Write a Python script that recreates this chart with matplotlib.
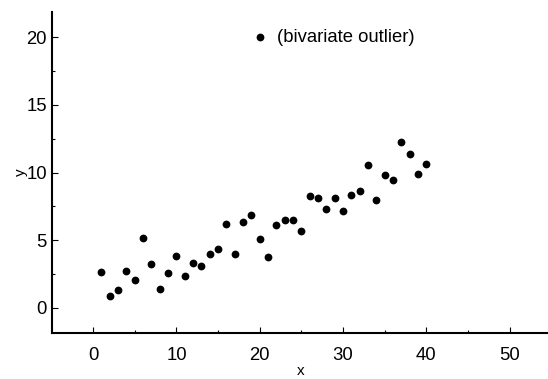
import numpy as np
import matplotlib.pyplot as plt
from matplotlib.ticker import MultipleLocator

plt.rcParams['font.family'] = ['Liberation Sans', 'DejaVu Sans']

# main cloud of points
x_vals = np.arange(1, 41)
y_vals = [2.67, 0.89, 1.31, 2.70, 2.03, 5.14, 3.24, 1.36, 2.59, 3.85,
          2.32, 3.29, 3.11, 4.00, 4.32, 6.20, 3.98, 6.35, 6.89, 5.07,
          3.76, 6.13, 6.50, 6.50, 5.70, 8.27, 8.15, 7.31, 8.15, 7.14,
          8.32, 8.64, 10.52, 7.98, 9.85, 9.41, 12.25, 11.39, 9.90, 10.64]

# the single outlying point
outlier_x = 20
outlier_y = 20
outlier_label = "(bivariate outlier)"

fig = plt.figure(figsize=(5.48, 3.79), dpi=100)
ax = fig.add_axes([0.0955, 0.1206, 0.9045, 0.8484])

ax.plot(x_vals, y_vals, 'o', color='black', markersize=5.6, markeredgewidth=0)
ax.plot(outlier_x, outlier_y, 'o', color='black', markersize=5.6, markeredgewidth=0)
ax.text(outlier_x + 2.1, outlier_y, outlier_label, fontsize=13.3, va='center', ha='left')

ax.set_xlim(-4.9, 54.6)
ax.set_ylim(-1.9, 21.9)

ax.xaxis.set_major_locator(MultipleLocator(10))
ax.xaxis.set_minor_locator(MultipleLocator(5))
ax.yaxis.set_major_locator(MultipleLocator(5))
ax.yaxis.set_minor_locator(MultipleLocator(2.5))

for side in ['top', 'right']:
    ax.spines[side].set_visible(False)
for side in ['left', 'bottom']:
    ax.spines[side].set_linewidth(1.5)

ax.tick_params(which='major', direction='in', length=4, width=0.8, labelsize=13.3)
ax.tick_params(which='minor', direction='in', length=2.5, width=0.8)
ax.tick_params(axis='x', pad=10)
ax.tick_params(axis='y', pad=4)

ax.set_xlabel('x', fontsize=11, labelpad=0)
ax.set_ylabel('y', fontsize=11, labelpad=-1)

fig.savefig('out.png', dpi=100)
